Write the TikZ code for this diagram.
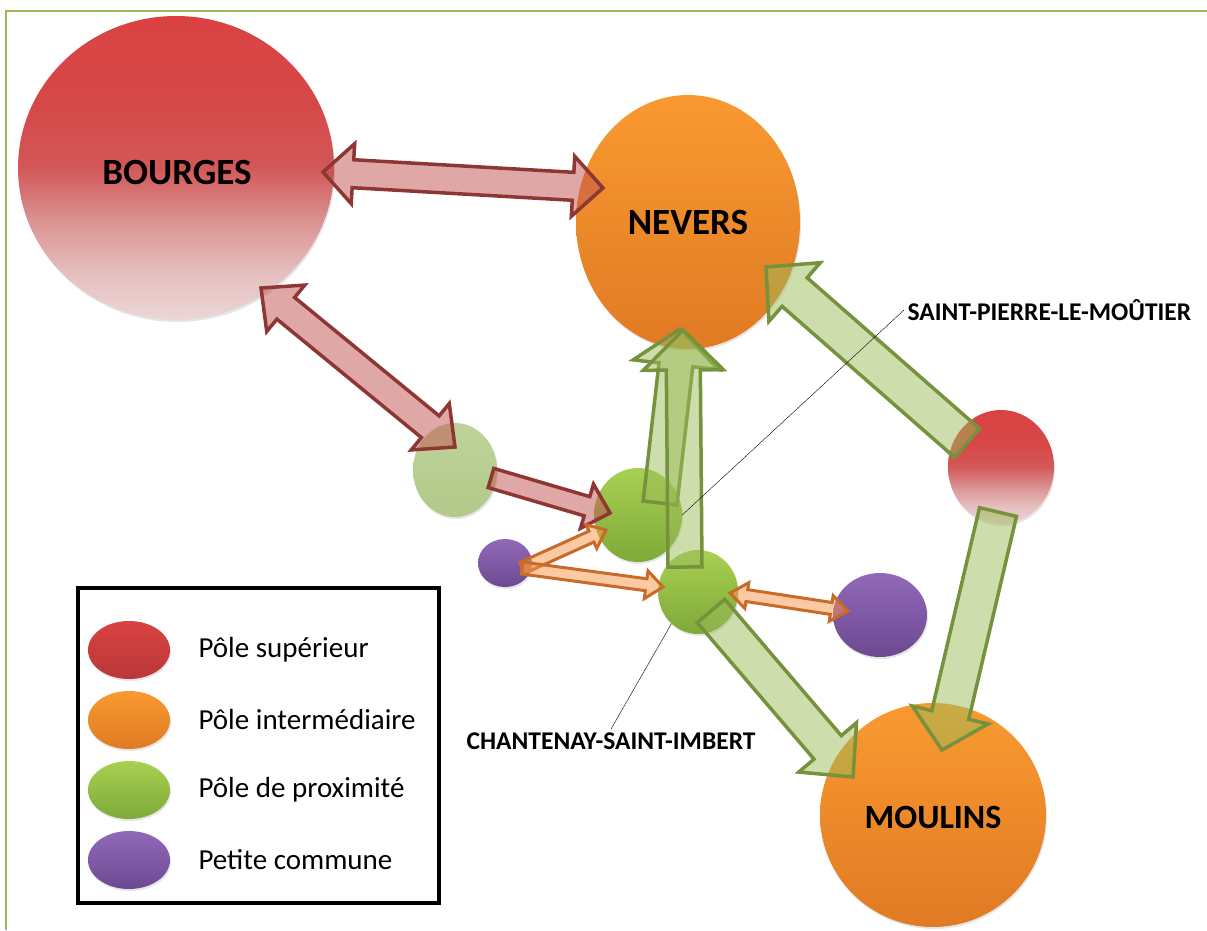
\documentclass[tikz,border=0pt]{standalone}
\usepackage{fontspec}
\setmainfont{Carlito}
\usetikzlibrary{shapes.geometric,calc,shadows}

\definecolor{supTop}{HTML}{DA4242}
\definecolor{interTop}{HTML}{F99A30}
\definecolor{interBot}{HTML}{E07A24}
\definecolor{proxTop}{HTML}{A8D052}
\definecolor{proxBot}{HTML}{7FA938}
\definecolor{fadeTop}{HTML}{BDD398}
\definecolor{fadeBot}{HTML}{B2C98B}
\definecolor{petiteTop}{HTML}{9069B8}
\definecolor{petiteBot}{HTML}{6D4992}
\definecolor{redFill}{HTML}{C0504D}
\definecolor{redLine}{HTML}{8E3634}
\definecolor{greenFill}{HTML}{9BBB59}
\definecolor{greenLine}{HTML}{76923C}
\definecolor{orangeFill}{HTML}{F79646}
\definecolor{orangeLine}{HTML}{C86A28}
\definecolor{frameGreen}{HTML}{9BBB59}

% red pole: strong red on top, fading out at the bottom
\pgfdeclareverticalshading{supshade}{100bp}{%
  color(0bp)=(rgb,255:red,236;green,214;blue,214);
  color(25bp)=(rgb,255:red,236;green,214;blue,214);
  color(33bp)=(rgb,255:red,229;green,190;blue,190);
  color(41bp)=(rgb,255:red,219;green,148;blue,148);
  color(50bp)=(rgb,255:red,211;green,88;blue,88);
  color(60bp)=(rgb,255:red,214;green,72;blue,72);
  color(75bp)=(rgb,255:red,218;green,66;blue,66);
  color(100bp)=(rgb,255:red,218;green,66;blue,66)}

% fat arrow: [style]{from}{to}{half shaft}{half head}{head length}
\newcommand{\fatarrow}[6][]{%
  \coordinate (fa-h) at ($(#3)!#6pt!(#2)$);
  \draw[#1] ($(#2)!#4pt!90:(#3)$) -- ($(fa-h)!#4pt!90:(#3)$) -- ($(fa-h)!#5pt!90:(#3)$) -- (#3)
    -- ($(fa-h)!#5pt!-90:(#3)$) -- ($(fa-h)!#4pt!-90:(#3)$) -- ($(#2)!#4pt!-90:(#3)$) -- cycle;}
% same, with a head at both ends
\newcommand{\fatdarrow}[6][]{%
  \coordinate (fa-h) at ($(#3)!#6pt!(#2)$);
  \coordinate (fa-t) at ($(#2)!#6pt!(#3)$);
  \draw[#1] ($(fa-t)!#4pt!90:(#3)$) -- ($(fa-h)!#4pt!90:(#3)$) -- ($(fa-h)!#5pt!90:(#3)$) -- (#3)
    -- ($(fa-h)!#5pt!-90:(#3)$) -- ($(fa-h)!#4pt!-90:(#3)$) -- ($(fa-t)!#4pt!-90:(#3)$)
    -- ($(fa-t)!#5pt!-90:(#3)$) -- (#2) -- ($(fa-t)!#5pt!90:(#3)$) -- cycle;}

\begin{document}
\begin{tikzpicture}[x=1pt,y=-1pt,
    pole/.style={ellipse, inner sep=0pt, drop shadow={opacity=0.2, shadow xshift=1pt, shadow yshift=-2pt}},
    suppole/.style={pole, shading=supshade},
    interpole/.style={pole, top color=interTop, bottom color=interBot},
    proxpole/.style={pole, top color=proxTop, bottom color=proxBot},
    petitepole/.style={pole, top color=petiteTop, bottom color=petiteBot},
    bigname/.style={font=\fontsize{37}{37}\selectfont\bfseries},
    townlabel/.style={font=\fontsize{25.5}{25.5}\selectfont\bfseries},
    redflow/.style={draw=redLine, fill=redFill, fill opacity=0.5, line width=3.5pt},
    greenflow/.style={draw=greenLine, fill=greenFill, fill opacity=0.5, line width=3.5pt},
    orangeflow/.style={draw=orangeLine, fill=orangeFill, fill opacity=0.5, line width=3pt}]
    \useasboundingbox (0,0) rectangle (1207,930);

    % frame
    \draw[frameGreen, line width=2.5pt] (6,930) -- (6,11) -- (1207,11);

    % poles
    \node[suppole, minimum width=316pt, minimum height=304pt] (bourges) at (176,168) {};
    \node[interpole, minimum width=224pt, minimum height=254pt] (nevers) at (688,222) {};
    \node[interpole, minimum width=226pt, minimum height=224pt] (moulins) at (933,815) {};
    \node[suppole, minimum width=106pt, minimum height=114pt] (redpole) at (1001,467) {};
    \node[pole, top color=fadeTop, bottom color=fadeBot, minimum width=84pt, minimum height=94pt] (fade) at (455,470) {};
    \node[proxpole, minimum width=88pt, minimum height=94pt] (spm) at (638,515) {};
    \node[proxpole, minimum width=80pt, minimum height=84pt] (chantenay) at (698,592) {};
    \node[petitepole, minimum width=54pt, minimum height=48pt] (petite1) at (505,563) {};
    \node[petitepole, minimum width=94pt, minimum height=84pt] (petite2) at (880,615) {};

    \node[bigname] at ($(bourges)+(1,4)$) {BOURGES};
    \node[bigname] at (nevers) {NEVERS};
    \node[bigname, font=\fontsize{34}{34}\selectfont\bfseries] at ($(moulins)+(0,2)$) {MOULINS};

    % arrow ends
    \coordinate (r1a) at (323,172);
    \coordinate (r1b) at (603,188);
    \coordinate (r2a) at (261,288);
    \coordinate (r2b) at (455,447);
    \coordinate (r3a) at (491,478);
    \coordinate (r3b) at (610,513);
    \coordinate (o1a) at (522,568);
    \coordinate (o1b) at (606,530);
    \coordinate (o2b) at (663,587);
    \coordinate (o3a) at (730,593);
    \coordinate (o3b) at (848,611);
    \coordinate (g1a) at (660,503);
    \coordinate (g1b) at (680,329);
    \coordinate (g2a) at (685,567);
    \coordinate (g2b) at (683,330);
    \coordinate (g3a) at (967,443);
    \coordinate (g3b) at (766,267);
    \coordinate (g4a) at (998,512);
    \coordinate (g4b) at (942,750);
    \coordinate (g5a) at (711,611);
    \coordinate (g5b) at (853,777);

    \fatdarrow[redflow]{r1a}{r1b}{14}{30}{30}
    \fatdarrow[redflow]{r2a}{r2b}{14}{30}{32}
    \fatarrow[redflow]{r3a}{r3b}{10}{23}{24}

    \fatarrow[greenflow]{g1a}{g1b}{17}{43}{36}
    \fatarrow[greenflow]{g2a}{g2b}{17}{40}{40}
    \fatarrow[greenflow]{g3a}{g3b}{19}{39}{38}
    \fatarrow[greenflow]{g4a}{g4b}{19}{39}{36}
    \fatarrow[greenflow]{g5a}{g5b}{18}{38}{39}

    \fatarrow[orangeflow]{o1a}{o1b}{6}{13}{16}
    \fatarrow[orangeflow]{o1a}{o2b}{6}{14}{17}
    \fatdarrow[orangeflow]{o3a}{o3b}{6}{13}{17}

    % names of the small poles
    \node[townlabel, anchor=west] (spmlabel) at (904,310) {SAINT-PIERRE-LE-MOÛTIER};
    \node[townlabel] (chantlabel) at (611,741) {CHANTENAY-SAINT-IMBERT};
    \draw[thin] (spmlabel.west) -- (spm.east);
    \draw[thin] (chantlabel.north) -- (chantenay.230);

    % legend
    \draw[line width=4pt] (78,588) rectangle (439,903);
    \foreach \tc/\bc/\txt [count=\i] in {supTop/supTop!85!black/Pôle supérieur,
        interTop/interBot/Pôle intermédiaire, proxTop/proxBot/Pôle de proximité,
        petiteTop/petiteBot/Petite commune} {
      \node[pole, top color=\tc, bottom color=\bc, minimum width=82pt, minimum height=58pt] (leg\i) at (129,580+70*\i) {};
      \node[anchor=west, font=\fontsize{29}{29}\selectfont] (legtext\i) at (195,580+70*\i) {\txt};
    }
\end{tikzpicture}
\end{document}
